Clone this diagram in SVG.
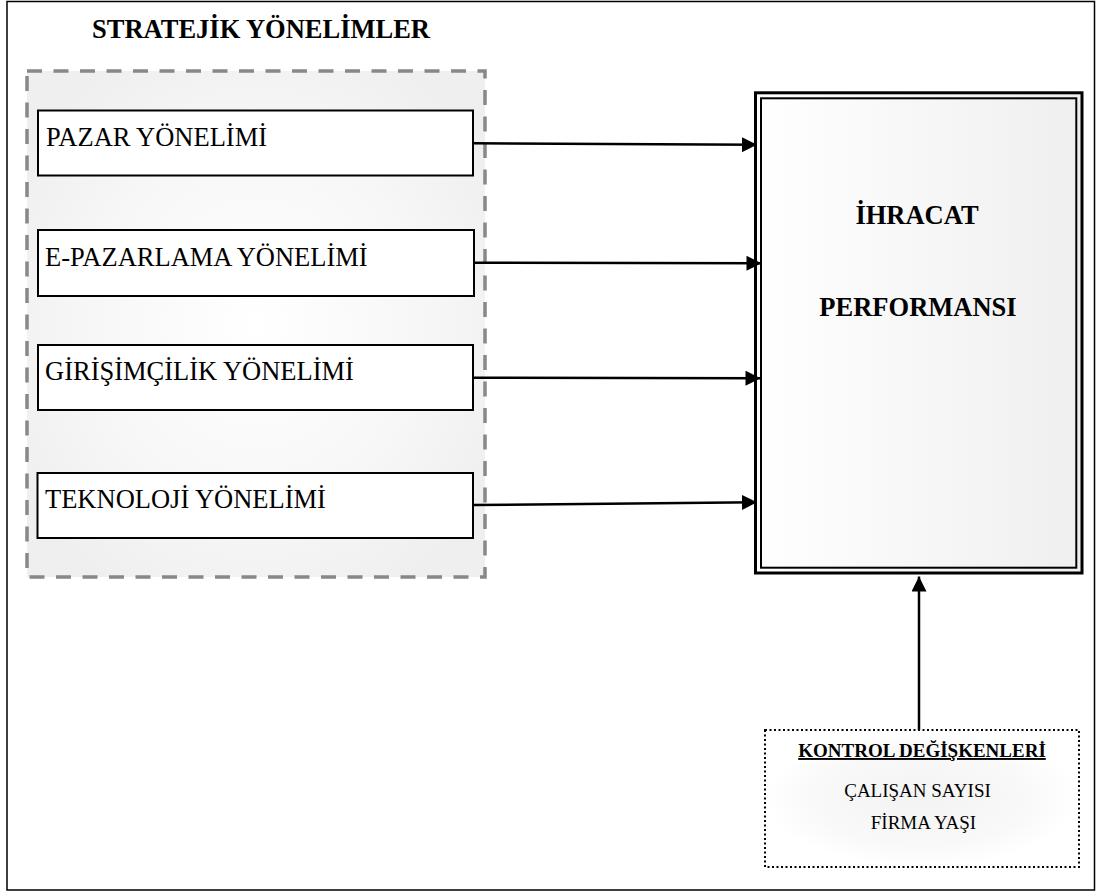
<svg xmlns="http://www.w3.org/2000/svg" width="1098" height="894" viewBox="0 0 1098 894">
<style>
  .t { font-family: "Liberation Serif", "Times New Roman", serif; fill: #000; }
  .box { fill: #fff; stroke: #000; stroke-width: 2; }
  .lbl { font-size: 26.5px; }
  .hd { font-size: 26.5px; font-weight: bold; }
  .sm { font-size: 19px; }
  .conn { stroke: #000; stroke-width: 2.5; fill: none; marker-end: url(#ah); }
</style>
<defs>
  <marker id="ah" markerUnits="userSpaceOnUse" markerWidth="15" markerHeight="15" refX="15" refY="7.5" orient="auto">
    <path d="M0,0 L15,7.5 L0,15 z" fill="#000"/>
  </marker>
  <radialGradient id="gCont" cx="0.5" cy="0.5" r="0.6">
    <stop offset="0" stop-color="#ffffff"/>
    <stop offset="0.6" stop-color="#f7f7f7"/>
    <stop offset="1" stop-color="#efefef"/>
  </radialGradient>
  <linearGradient id="gPerf" x1="0" y1="0" x2="1" y2="0">
    <stop offset="0" stop-color="#ffffff"/>
    <stop offset="1" stop-color="#efefef"/>
  </linearGradient>
  <radialGradient id="gCtrl" cx="0.5" cy="0.5" r="0.5">
    <stop offset="0" stop-color="#f3f3f3"/>
    <stop offset="0.7" stop-color="#f9f9f9"/>
    <stop offset="1" stop-color="#ffffff"/>
  </radialGradient>
</defs>

<rect x="0" y="0" width="1098" height="894" fill="#fff"/>
<rect id="frame" x="7" y="1.5" width="1087.5" height="888.5" fill="none" stroke="#000" stroke-width="1.5"/>

<g id="strategic-group">
  <text class="t hd" x="261" y="38" text-anchor="middle" font-size="27">STRATEJİK YÖNELİMLER</text>
  <rect x="27" y="71" width="458" height="506" fill="url(#gCont)" stroke="#888" stroke-width="3.5" stroke-dasharray="15 11.5"/>
</g>

<g id="pazar">
  <rect class="box" x="38" y="110.5" width="435" height="65"/>
  <text class="t lbl" x="46" y="145.5">PAZAR YÖNELİMİ</text>
</g>
<g id="e-pazarlama">
  <rect class="box" x="38" y="230" width="436" height="66"/>
  <text class="t lbl" x="45" y="265.5">E-PAZARLAMA YÖNELİMİ</text>
</g>
<g id="girisimcilik">
  <rect class="box" x="38" y="345" width="435" height="65"/>
  <text class="t lbl" x="45" y="379.5">GİRİŞİMÇİLİK YÖNELİMİ</text>
</g>
<g id="teknoloji">
  <rect class="box" x="37.5" y="473" width="435.5" height="65"/>
  <text class="t lbl" x="45" y="508">TEKNOLOJİ YÖNELİMİ</text>
</g>

<g id="ihracat">
  <rect x="755.5" y="92.8" width="326.5" height="480.2" fill="url(#gPerf)" stroke="#000" stroke-width="3"/>
  <rect x="761" y="98.3" width="315.3" height="469.4" fill="none" stroke="#000" stroke-width="2"/>
  <text class="t hd" x="917" y="224" text-anchor="middle">İHRACAT</text>
  <text class="t hd" x="918" y="315.5" text-anchor="middle">PERFORMANSI</text>
</g>

<g id="kontrol">
  <rect x="765" y="730" width="314" height="137" fill="url(#gCtrl)" stroke="#000" stroke-width="2" stroke-dasharray="2 2.5"/>
  <text class="t sm" x="922" y="757" text-anchor="middle" font-weight="bold" text-decoration="underline">KONTROL DEĞİŞKENLERİ</text>
  <text class="t sm" x="917.5" y="797" text-anchor="middle">ÇALIŞAN SAYISI</text>
  <text class="t sm" x="923.5" y="828.5" text-anchor="middle">FİRMA YAŞI</text>
</g>

<g id="connectors">
  <line class="conn" x1="473" y1="143.3" x2="757" y2="144.8"/>
  <line class="conn" x1="474" y1="262.8" x2="761.5" y2="263.3"/>
  <line class="conn" x1="473" y1="377.8" x2="760.5" y2="378.2"/>
  <line class="conn" x1="473" y1="505" x2="757" y2="502.3"/>
  <line class="conn" x1="919" y1="730" x2="919" y2="576.5" stroke-width="3"/>
</g>
</svg>
